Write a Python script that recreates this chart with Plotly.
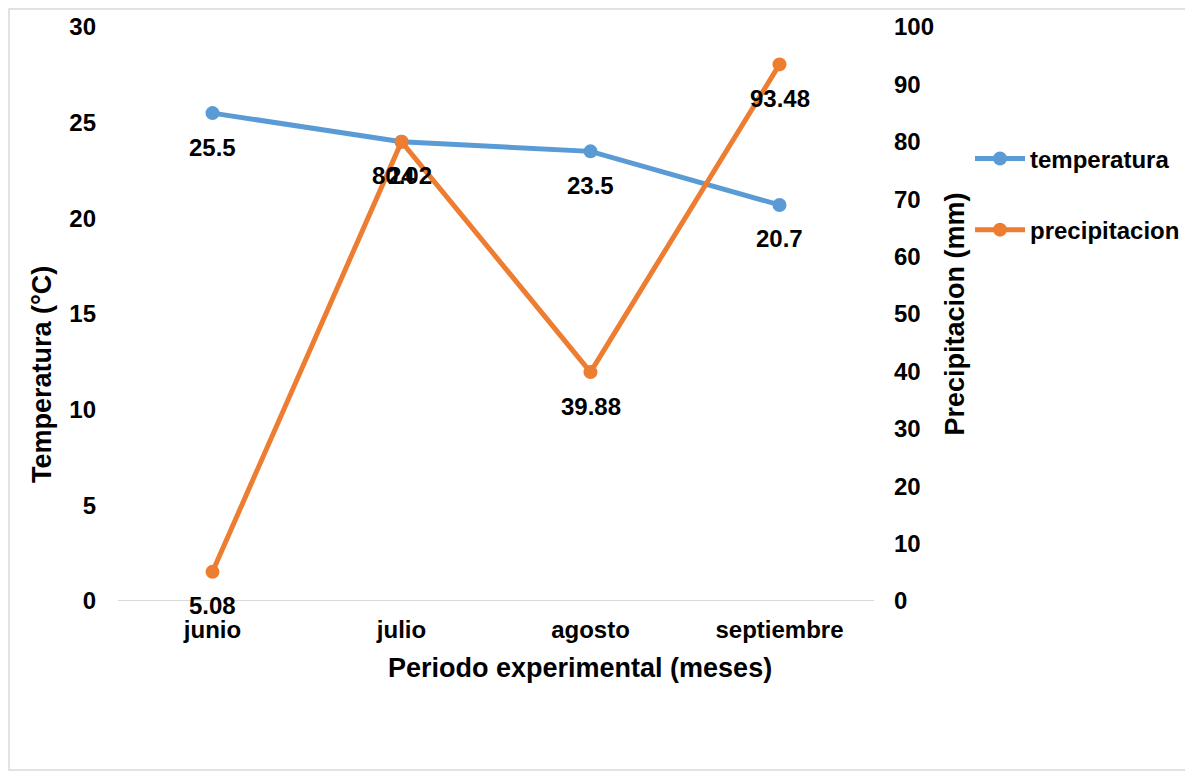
import plotly.graph_objects as go

meses = ["junio", "julio", "agosto", "septiembre"]
temperatura = [25.5, 24.0, 23.5, 20.7]
precipitacion = [5.08, 80.02, 39.88, 93.48]
temp_labels = ["25.5", "24", "23.5", "20.7"]
prec_labels = ["5.08", "80.02", "39.88", "93.48"]

W, H = 1183, 763
L, T = 110, 19
PW, PH = 756, 574
R = W - L - PW
B = H - T - PH
FONT = "Liberation Sans, Arial, sans-serif"
BLUE = "#5B9BD5"
ORANGE = "#ED7D31"
TICK = dict(family=FONT, size=24, color="black", weight="bold")
TITLE = dict(family=FONT, size=27, color="black", weight="bold")

fig = go.Figure()
fig.add_trace(go.Scatter(
    x=meses, y=temperatura, name="temperatura", mode="lines+markers",
    line=dict(color=BLUE, width=5), marker=dict(size=14, color=BLUE),
    legendgroup="t", cliponaxis=False,
))
fig.add_trace(go.Scatter(
    x=meses, y=precipitacion, name="precipitacion", mode="lines+markers",
    line=dict(color=ORANGE, width=5), marker=dict(size=14, color=ORANGE),
    yaxis="y2", legendgroup="p", cliponaxis=False,
))

for m, v, t in zip(meses, temperatura, temp_labels):
    fig.add_annotation(x=m, y=v, xref="x", yref="y", text=t, showarrow=False,
                       yshift=-34, font=TICK)
for m, v, t in zip(meses, precipitacion, prec_labels):
    fig.add_annotation(x=m, y=v, xref="x", yref="y2", text=t, showarrow=False,
                       yshift=-34, font=TICK)

# axis titles (placed as in the reference, off-centre from the plot area)
fig.add_annotation(xref="paper", yref="paper", x=(580 - 118) / PW,
                   y=(601 - 668) / PH, text="Periodo experimental (meses)",
                   showarrow=False, xanchor="center", yanchor="middle", font=TITLE)
fig.add_annotation(xref="paper", yref="paper", x=(42 - 118) / PW,
                   y=(601 - 375) / PH, text="Temperatura (°C)", textangle=-90,
                   showarrow=False, xanchor="center", yanchor="middle", font=TITLE)

fig.add_shape(type="rect", xref="paper", yref="paper",
              x0=(1 - L) / PW, x1=(W - 1 - L) / PW,
              y0=-(B - 1) / PH, y1=1 + (T - 1) / PH,
              line=dict(color="#D9D9D9", width=1.5), layer="below")
fig.add_shape(type="line", xref="paper", yref="y", x0=0, x1=1, y0=0, y1=0,
              line=dict(color="#D9D9D9", width=2), layer="below")

fig.update_layout(
    width=W, height=H,
    margin=dict(l=L, r=R, t=T, b=B, autoexpand=False),
    paper_bgcolor="white", plot_bgcolor="white",
    font=TICK,
    showlegend=True,
    legend=dict(x=1.127, y=0.8095, xanchor="left", yanchor="top",
                tracegroupgap=37, itemwidth=50, font=TICK),
    xaxis=dict(type="category", showgrid=False, zeroline=False,
               showline=False, ticks="", ticklabelstandoff=12,
               range=[-0.5, 3.5], tickfont=TICK),
    yaxis=dict(range=[0, 30], dtick=5, showgrid=False, zeroline=False,
               showline=False, ticks="", ticklabelstandoff=21, tickfont=TICK),
    yaxis2=dict(range=[0, 100], dtick=10, overlaying="y", side="right",
                showgrid=False, zeroline=False, showline=False, ticks="",
                ticklabelstandoff=19, tickfont=TICK,
                title=dict(text="Precipitacion (mm)", standoff=12, font=TITLE)),
)

fig.write_html("out.html")
